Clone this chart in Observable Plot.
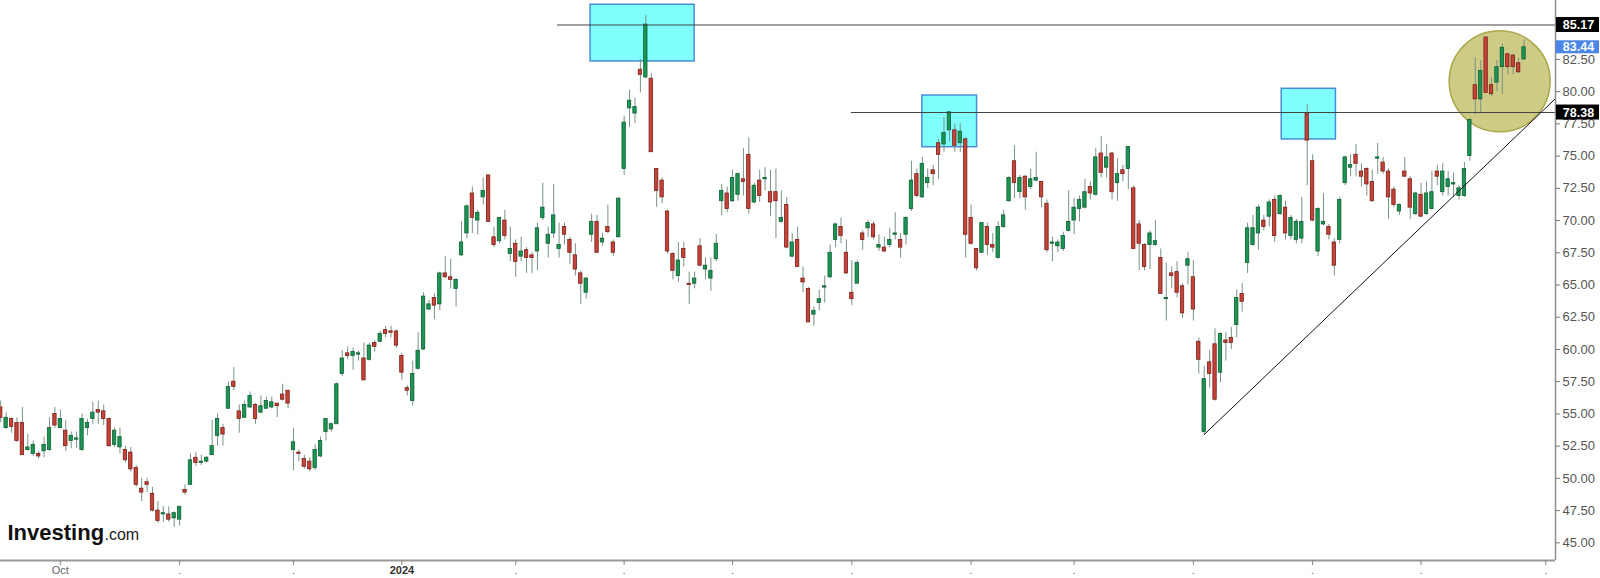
<!DOCTYPE html>
<html><head><meta charset="utf-8">
<script src="https://cdn.jsdelivr.net/npm/d3@7"></script>
<script src="https://cdn.jsdelivr.net/npm/@observablehq/plot@0.6"></script>
<style>html,body{margin:0;padding:0;background:#fff;}</style>
</head><body>
<script>
// ---- daily OHLC (trading-day index 0..281) ----
const opens = [
55.5,53.9,54.6,54.3,54.3,52.2,51.9,51.9,52.1,52.2,
55.0,53.9,53.7,52.9,53.0,52.2,53.9,54.6,55.3,55.2,
54.6,52.6,52.4,52.2,52.0,50.8,49.2,49.7,48.8,47.5,
47.2,47.2,46.9,46.8,49.1,49.5,51.6,51.2,51.3,51.8,
53.3,53.9,55.4,57.5,55.2,54.7,55.5,55.7,55.1,55.4,
55.5,55.8,56.5,56.8,52.2,52.0,51.5,51.3,50.8,51.7,
53.6,53.8,54.2,58.1,59.7,59.5,59.6,59.3,59.2,60.5,
60.6,61.5,61.4,61.4,59.5,57.0,56.0,58.5,60.0,63.1,
64.0,63.5,65.9,65.6,64.7,67.3,69.0,72.1,70.0,71.8,
73.5,68.7,68.4,70.0,67.4,68.2,67.2,67.7,67.3,67.6,
70.2,68.2,69.0,67.8,69.5,68.5,67.3,65.9,64.4,68.9,
69.9,68.3,69.5,68.3,68.7,74.0,78.7,78.3,81.7,81.1,
81.0,74.0,73.1,70.7,67.4,65.7,67.8,65.1,65.1,68.0,
66.2,65.5,67.0,71.5,72.1,71.5,72.0,73.2,75.1,71.4,
73.1,73.2,72.2,72.2,69.9,71.2,67.2,68.5,65.5,64.7,
62.7,63.6,64.8,65.6,68.5,69.5,67.5,64.4,65.1,69.0,
69.4,69.7,67.9,67.9,68.1,68.9,68.5,68.9,70.9,73.6,
71.8,72.9,73.9,76.0,75.9,77.0,77.0,76.0,76.3,70.2,
67.8,67.5,69.5,68.1,67.1,69.5,71.5,74.6,72.2,73.4,
72.6,73.1,73.0,71.3,68.2,68.0,67.8,69.2,70.0,70.9,
71.0,72.6,72.0,75.2,74.1,75.2,72.9,73.9,74.0,72.5,
69.7,68.1,68.1,68.1,67.1,63.9,65.9,66.0,64.9,66.5,
65.6,60.6,53.6,59.0,60.4,58.2,60.7,60.9,61.9,64.3,
66.7,68.1,69.0,70.0,70.3,71.6,70.5,71.0,68.8,68.5,
68.6,78.3,74.6,67.6,69.7,69.5,68.3,68.5,72.9,74.1,
75.1,73.8,74.0,73.0,74.8,74.5,73.8,72.4,70.7,73.8,
73.2,70.5,72.0,70.5,70.9,73.8,72.2,72.6,72.8,71.9,
71.9,75.0,80.5,79.4,84.2,80.5,80.7,81.9,82.9,82.8,
82.2,82.5];
const highs = [
56.0,55.1,54.7,54.7,55.5,53.4,52.9,52.1,53.2,54.7,
55.5,55.3,54.5,53.6,53.6,55.0,54.6,55.9,56.0,55.7,
54.7,53.9,53.9,52.5,52.4,51.0,50.0,50.0,49.3,48.2,
47.8,47.8,47.4,47.8,49.5,51.9,52.0,51.8,51.7,54.5,
55.0,54.2,57.5,58.6,55.7,56.0,56.7,55.8,56.4,56.3,
56.3,55.8,57.3,56.8,53.9,52.2,51.8,51.6,52.6,53.2,
54.6,54.3,57.4,59.9,60.2,60.1,59.9,60.5,60.5,60.7,
61.4,61.8,61.8,61.5,59.7,57.2,59.1,61.3,64.4,63.8,
64.3,66.0,67.2,67.0,65.5,69.9,71.2,72.6,70.8,73.3,
73.5,69.5,70.2,70.8,69.5,68.5,68.7,67.9,67.5,69.8,
72.9,69.5,72.8,69.8,69.8,68.7,68.2,66.1,65.6,70.5,
70.4,69.0,71.2,68.5,71.8,78.1,80.1,79.5,82.5,85.9,
81.4,74.0,73.3,70.8,67.5,68.3,68.3,66.0,66.0,68.6,
67.1,67.1,68.9,72.8,72.6,73.9,73.7,75.6,76.4,72.9,
73.9,74.1,73.9,74.0,72.3,71.8,69.0,69.5,66.4,64.8,
63.3,64.6,65.7,68.1,69.8,70.2,68.5,66.9,66.9,69.2,
70.0,69.9,68.9,68.7,69.4,70.6,69.0,70.3,74.6,74.0,
74.9,74.0,74.3,76.3,78.0,78.4,77.5,77.5,76.4,71.2,
67.8,69.8,69.8,69.0,69.9,70.8,73.4,75.8,73.5,73.5,
74.0,75.3,73.0,71.6,68.7,68.5,69.1,72.3,71.7,71.9,
73.2,73.0,75.6,76.5,75.9,75.3,74.8,74.3,75.7,72.7,
70.0,68.2,69.2,70.0,67.8,66.7,66.4,66.8,65.1,67.5,
66.9,60.9,58.7,59.9,61.6,61.3,61.3,61.7,64.6,65.1,
69.8,70.4,71.2,70.4,71.6,71.9,72.0,71.5,70.4,70.1,
71.8,79.0,75.1,71.0,72.1,69.7,68.6,71.8,75.0,75.1,
75.9,74.4,74.1,73.9,76.0,74.9,74.0,72.6,71.3,74.9,
73.4,72.2,72.9,73.0,73.8,74.3,74.4,73.8,73.7,72.7,
74.5,77.9,82.6,82.4,84.2,81.1,82.4,83.7,82.9,82.9,
82.6,84.0];
const lows = [
54.3,53.8,53.5,52.8,51.8,52.1,51.7,51.5,51.6,52.1,
53.9,53.9,52.1,52.3,52.3,52.1,53.3,54.2,54.2,54.1,
52.4,52.4,51.9,51.2,50.5,49.3,48.2,48.9,47.4,46.5,
46.6,46.6,46.2,46.3,48.7,49.5,50.9,51.0,51.2,51.8,
52.5,52.5,55.4,56.8,53.5,54.7,55.4,54.2,55.0,55.4,
55.4,54.7,56.0,55.4,50.6,51.3,50.7,50.5,50.6,51.6,
52.9,53.6,54.2,57.9,59.2,58.4,59.1,57.6,59.1,59.8,
60.5,60.9,60.9,60.1,57.6,56.4,55.6,58.4,59.9,63.0,
62.3,63.0,65.5,64.7,63.3,67.2,68.6,69.0,68.9,71.2,
69.9,67.9,68.2,68.5,66.8,65.6,66.8,65.9,65.9,66.1,
70.0,67.1,68.6,67.1,68.1,66.6,65.7,63.5,63.9,68.3,
67.5,68.0,69.0,67.2,68.7,73.5,77.2,77.5,79.9,81.0,
75.3,71.0,71.3,67.4,65.4,65.2,66.4,63.5,64.7,66.4,
65.4,64.5,66.8,70.4,70.6,71.4,71.5,71.9,70.5,71.3,
71.4,72.3,70.3,68.6,69.8,67.8,67.1,66.4,64.4,62.1,
61.8,63.0,63.6,65.5,67.9,68.2,65.8,63.4,65.1,67.7,
68.7,68.5,67.6,67.5,67.9,68.5,67.1,68.1,70.7,71.8,
71.7,72.5,72.7,73.2,75.3,76.1,75.3,75.3,67.1,68.1,
66.1,67.5,67.3,67.5,67.0,69.4,71.4,71.7,71.7,70.8,
72.4,73.0,71.0,67.5,66.8,67.5,67.6,69.1,68.9,69.9,
70.9,71.6,71.9,73.3,73.3,71.6,71.5,73.0,72.4,67.8,
66.1,66.1,66.2,68.0,64.3,62.2,64.7,64.0,62.4,65.0,
62.2,58.1,53.4,57.0,56.0,57.4,59.1,60.0,60.9,62.9,
65.9,68.0,67.7,69.2,69.5,68.3,70.4,68.5,68.5,68.2,
68.2,72.7,69.9,67.2,69.6,68.5,65.7,68.2,72.7,73.4,
73.4,72.6,71.9,71.4,73.6,73.6,70.1,71.0,70.4,73.4,
70.1,70.4,70.3,70.4,70.8,72.7,71.9,71.9,71.8,71.6,
71.8,74.6,78.2,78.3,79.9,79.6,80.0,79.8,81.3,81.3,
81.4,82.4];
const closes = [
54.7,54.7,54.0,52.9,51.8,52.4,52.6,51.7,52.6,53.9,
54.1,54.6,52.5,53.3,53.1,54.6,54.3,55.1,55.1,54.6,
52.5,53.7,53.2,51.4,50.7,49.5,48.9,49.5,47.5,46.7,
47.3,46.8,47.3,47.8,48.9,51.4,51.2,51.3,51.6,52.5,
54.6,53.4,57.1,57.1,54.6,55.7,56.4,54.6,55.6,56.0,
55.9,55.6,56.1,55.8,52.8,51.9,50.9,50.7,52.2,52.9,
54.6,54.2,57.3,59.3,59.5,59.8,59.7,57.6,60.3,60.2,
61.2,61.2,61.3,60.3,58.2,56.8,58.1,59.9,64.1,63.5,
63.4,65.9,65.6,65.4,65.4,68.3,71.1,70.2,70.6,72.3,
69.9,68.1,70.2,68.8,67.8,66.8,67.6,67.1,67.1,69.4,
71.0,68.9,70.4,68.1,68.9,67.5,66.2,65.1,65.5,69.9,
67.5,68.6,69.1,67.5,71.7,77.6,79.3,78.8,81.3,85.2,
75.3,72.3,71.8,67.6,66.1,66.9,67.1,65.0,65.5,66.5,
66.5,66.1,68.2,72.3,70.9,73.3,73.6,73.0,70.9,72.7,
71.9,73.3,71.4,71.5,70.2,67.9,68.3,66.4,65.2,62.1,
63.0,63.9,64.9,67.5,69.7,68.8,65.9,63.9,66.7,68.5,
69.8,68.7,68.1,67.6,68.5,69.0,67.9,70.2,73.1,71.9,
74.4,73.3,73.6,75.1,76.8,78.4,75.8,76.9,68.9,68.2,
66.3,69.8,68.1,67.9,69.5,70.4,73.3,72.9,73.3,71.8,
73.2,73.3,71.8,67.7,68.3,68.3,68.8,69.9,71.0,71.6,
72.2,72.1,74.9,73.7,74.9,72.2,73.6,73.6,75.7,67.8,
68.2,66.4,69.0,68.4,64.3,64.0,65.7,64.4,62.8,67.0,
63.1,59.2,57.7,58.1,56.1,61.2,60.5,60.5,64.0,63.7,
69.4,69.4,71.0,69.5,71.4,68.8,71.9,69.0,70.2,69.9,
69.9,76.2,70.0,70.9,69.9,68.9,66.5,71.6,74.9,74.3,
74.4,73.4,72.8,71.5,74.9,73.8,71.8,71.2,71.2,73.4,
71.0,72.1,70.3,72.1,72.2,73.4,73.8,73.2,72.9,72.5,
74.0,77.8,79.4,81.6,79.9,79.8,81.9,83.4,81.9,81.9,
81.5,83.44];

// ---- axes ----
const monthTickIdx = [11,33,54,74,95,115,135,157,179,198,220,242,262,285];
const monthTickLabels = ["Oct",".",".","2024",".",".",".",".",".",".",".",".",".","."];
const yTicks = [45,47.5,50,52.5,55,57.5,60,62.5,65,67.5,70,72.5,75,77.5,80,82.5];

// ---- annotations ----
const levelValues = [85.17, 78.38];
const levelStartIdx = [102.7, 156.9];
const boxX1 = [108.8, 170.0, 236.3];
const boxX2 = [128.0, 180.1, 246.3];
const boxTop = [86.74, 79.70, 80.22];
const boxBottom = [82.34, 75.69, 76.29];
const trendIdx = [222, 286.8];
const trendVal = [53.4, 79.46];
const circleIdx = [276.5];
const circleVal = [80.8];
const tagValues = [85.17, 83.44, 78.38];
const tagKinds = ["level", "last", "level"];

const xMax = 286.8, yMin = 43.63, yMax = 87.07;

const candles = opens.map((o, i) => ({i, open: o, high: highs[i], low: lows[i], close: closes[i]}));
const ups = candles.filter(d => d.close >= d.open);
const downs = candles.filter(d => d.close < d.open);
const levels = levelValues.map((v, k) => ({v, start: levelStartIdx[k]}));
const boxes = boxX1.map((x1, k) => ({x1, x2: boxX2[k], y1: boxBottom[k], y2: boxTop[k]}));
const trend = trendIdx.map((x, k) => ({x, y: trendVal[k]}));
const circle = circleIdx.map((x, k) => ({x, y: circleVal[k]}));
const tags = tagValues.map((v, k) => ({v, kind: tagKinds[k]}));
const ticks = monthTickIdx.map((i, k) => ({i, label: monthTickLabels[k]}));

const font = "'Liberation Sans', Arial, Helvetica, sans-serif";

const chart = Plot.plot({
  width: 1600, height: 578,
  marginLeft: 0, marginRight: 45, marginTop: 0, marginBottom: 18,
  x: {domain: [-0.04, xMax], axis: null, label: null},
  y: {domain: [yMin, yMax], axis: null, label: null},
  style: {fontFamily: font, background: "#fff", overflow: "visible"},
  marks: [
    Plot.rect(boxes, {x1: "x1", x2: "x2", y1: "y1", y2: "y2", fill: "#80ffff", stroke: "#4a8ed6", strokeWidth: 1.5}),
    Plot.dot(circle, {x: "x", y: "y", r: 50.5, fill: "#cdcb86", stroke: "#aaa84a", strokeWidth: 1.5}),
    Plot.ruleX(candles, {x: "i", y1: "low", y2: "high", stroke: "#7a9386", strokeWidth: 1}),
    Plot.rect(ups, {x1: d => d.i - 0.31, x2: d => d.i + 0.31, y1: "open", y2: "close", fill: "#1c9553", stroke: "#0d5f35", strokeWidth: 0.8}),
    Plot.rect(downs, {x1: d => d.i - 0.31, x2: d => d.i + 0.31, y1: "open", y2: "close", fill: "#c5443a", stroke: "#7a1d16", strokeWidth: 0.8}),
    Plot.ruleY(levels, {y: "v", x1: "start", x2: () => xMax, stroke: "#444", strokeWidth: 1}),
    Plot.line(trend, {x: "x", y: "y", stroke: "#111", strokeWidth: 1}),
    Plot.ruleX([xMax], {stroke: "#8c8c8c", strokeWidth: 1.5}),
    Plot.ruleY([yMin], {stroke: "#9a9a9a", strokeWidth: 2}),
    Plot.axisY(yTicks, {anchor: "right", tickSize: 4, tickPadding: 3, tickFormat: d => d.toFixed(2), fontSize: 13, stroke: "#777", fill: "#555"}),
    Plot.axisX(monthTickIdx, {anchor: "bottom", tickSize: 5, tickFormat: () => "", stroke: "#888"}),
    Plot.text(ticks.filter(d => d.label !== "2024"), {x: "i", text: "label", frameAnchor: "bottom", dy: 13, fontSize: 11, fill: "#666"}),
    Plot.text(ticks.filter(d => d.label === "2024"), {x: "i", text: "label", frameAnchor: "bottom", dy: 13, fontSize: 11, fontWeight: "bold", fill: "#333"}),
    Plot.rect(tags.filter(d => d.kind === "level"), {x1: () => xMax, x2: () => xMax, y1: "v", y2: "v", insetLeft: 1, insetRight: -44, insetTop: -7.5, insetBottom: -7.5, fill: "#000"}),
    Plot.rect(tags.filter(d => d.kind === "last"), {x1: () => xMax, x2: () => xMax, y1: "v", y2: "v", insetLeft: 1, insetRight: -44, insetTop: -6.5, insetBottom: -6.5, fill: "#4a86e8"}),
    Plot.text(tags, {x: () => xMax, y: "v", text: d => d.v.toFixed(2), dx: 23, fill: "#fff", fontWeight: "bold", fontSize: 12.5}),
    Plot.text(["Investing"], {frameAnchor: "bottom-left", dx: 7, dy: -21, text: d => d, textAnchor: "start", lineAnchor: "bottom", fontSize: 22, fontWeight: "bold", fill: "#111"}),
    Plot.text([".com"], {frameAnchor: "bottom-left", dx: 104, dy: -21, text: d => d, textAnchor: "start", lineAnchor: "bottom", fontSize: 16, fill: "#222"})
  ]
});
document.body.appendChild(chart);
</script>
</body></html>
